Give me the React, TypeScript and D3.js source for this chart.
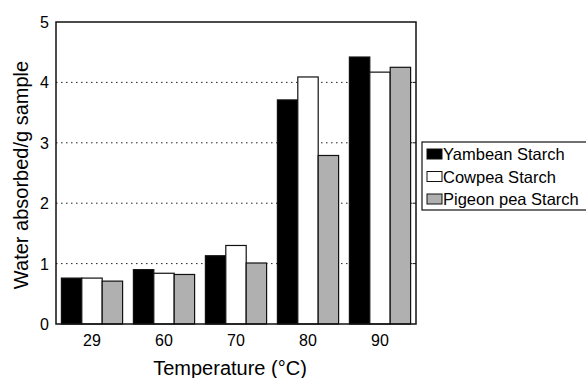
import { useEffect, useRef } from 'react';
import * as d3 from 'd3';

const temperatures = ['29', '60', '70', '80', '90'];
const seriesNames = ['Yambean Starch', 'Cowpea Starch', 'Pigeon pea Starch'];
const yambean = [0.76, 0.9, 1.13, 3.71, 4.42];
const cowpea = [0.76, 0.84, 1.3, 4.09, 4.17];
const pigeonPea = [0.71, 0.82, 1.01, 2.79, 4.25];
const yTicks = [0, 1, 2, 3, 4, 5];

const seriesFills = ['#000000', '#ffffff', '#b0b0b0'];

export default function App() {
  const ref = useRef<SVGSVGElement>(null);

  useEffect(() => {
    if (!ref.current) return;
    const svg = d3.select(ref.current);
    svg.selectAll('*').remove();

    const font = 'Liberation Sans, Arial, sans-serif';
    const left = 56;
    const right = 416;
    const top = 22;
    const bottom = 324;

    const x0 = d3
      .scaleBand<string>()
      .domain(temperatures)
      .range([left, right])
      .paddingInner(0.15)
      .paddingOuter(0.075);

    const x1 = d3
      .scaleBand<string>()
      .domain(seriesNames)
      .range([0, x0.bandwidth()]);

    const y = d3.scaleLinear().domain([0, 5]).range([bottom, top]);

    const allSeries = [yambean, cowpea, pigeonPea];

    // white background
    svg.append('rect').attr('width', 586).attr('height', 378).attr('fill', 'white');

    // grid lines (dotted)
    svg
      .append('g')
      .selectAll('line')
      .data(yTicks.filter((t) => t > 0 && t < 5))
      .enter()
      .append('line')
      .attr('x1', left)
      .attr('x2', right)
      .attr('y1', (d) => y(d))
      .attr('y2', (d) => y(d))
      .attr('stroke', '#222')
      .attr('stroke-width', 1)
      .attr('stroke-dasharray', '1.5,3.5');

    // bars
    const groups = svg
      .append('g')
      .selectAll('g')
      .data(temperatures)
      .enter()
      .append('g')
      .attr('transform', (d) => `translate(${x0(d)},0)`);

    groups
      .selectAll('rect')
      .data((d, i) => seriesNames.map((s, j) => ({ s, j, v: allSeries[j][i] })))
      .enter()
      .append('rect')
      .attr('x', (d) => x1(d.s)!)
      .attr('width', x1.bandwidth())
      .attr('y', (d) => y(d.v))
      .attr('height', (d) => bottom - y(d.v))
      .attr('fill', (d) => seriesFills[d.j])
      .attr('stroke', '#111')
      .attr('stroke-width', 1.2);

    // frame
    svg
      .append('rect')
      .attr('x', left)
      .attr('y', top)
      .attr('width', right - left)
      .attr('height', bottom - top)
      .attr('fill', 'none')
      .attr('stroke', '#111')
      .attr('stroke-width', 1.5);

    // y axis labels
    svg
      .append('g')
      .selectAll('text')
      .data(yTicks)
      .enter()
      .append('text')
      .attr('x', left - 7)
      .attr('y', (d) => y(d) + 6)
      .attr('text-anchor', 'end')
      .style('font-family', font)
      .style('font-size', '16px')
      .text((d) => d);

    // small inward ticks on right side
    svg
      .append('g')
      .selectAll('line')
      .data(yTicks.filter((t) => t > 0 && t < 5))
      .enter()
      .append('line')
      .attr('x1', right - 3)
      .attr('x2', right)
      .attr('y1', (d) => y(d))
      .attr('y2', (d) => y(d))
      .attr('stroke', '#111');

    // x axis labels
    svg
      .append('g')
      .selectAll('text')
      .data(temperatures)
      .enter()
      .append('text')
      .attr('x', (d) => x0(d)! + x0.bandwidth() / 2)
      .attr('y', 346)
      .attr('text-anchor', 'middle')
      .style('font-family', font)
      .style('font-size', '16px')
      .text((d) => d);

    // axis titles
    svg
      .append('text')
      .attr('x', 230)
      .attr('y', 375)
      .attr('text-anchor', 'middle')
      .style('font-family', font)
      .style('font-size', '20px')
      .text('Temperature (°C)');

    svg
      .append('text')
      .attr('transform', `translate(28,${(top + bottom) / 2 + 2}) rotate(-90)`)
      .attr('text-anchor', 'middle')
      .style('font-family', font)
      .style('font-size', '20px')
      .text('Water absorbed/g sample');

    // legend
    const legend = svg.append('g').attr('transform', 'translate(422,142)');
    legend
      .append('rect')
      .attr('width', 170)
      .attr('height', 68)
      .attr('fill', 'white')
      .attr('stroke', '#111')
      .attr('stroke-width', 1.2);

    const items = legend
      .selectAll('g.item')
      .data(seriesNames)
      .enter()
      .append('g')
      .attr('class', 'item')
      .attr('transform', (d, i) => `translate(5,${12 + i * 22.5})`);

    items
      .append('rect')
      .attr('x', 0)
      .attr('y', -5)
      .attr('width', 15)
      .attr('height', 10)
      .attr('fill', (d, i) => seriesFills[i])
      .attr('stroke', '#111')
      .attr('stroke-width', 1);

    items
      .append('text')
      .attr('x', 16)
      .attr('y', 6)
      .style('font-family', font)
      .style('font-size', '16.5px')
      .text((d) => d);
  }, []);

  return (
    <svg
      ref={ref}
      width={586}
      height={378}
      style={{ position: 'absolute', left: 0, top: 0 }}
    />
  );
}
